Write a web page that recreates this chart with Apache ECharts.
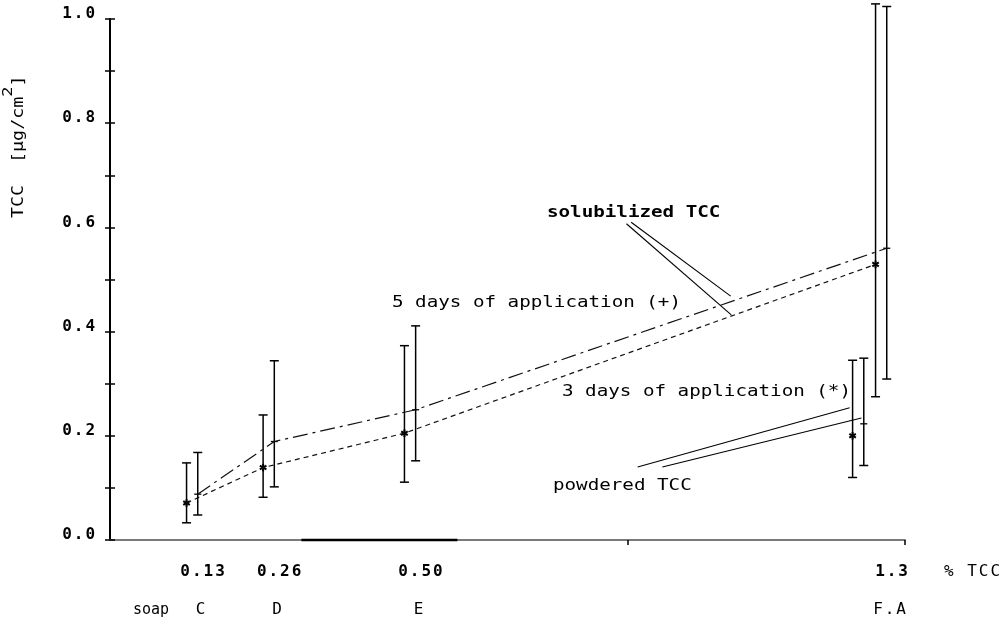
<!DOCTYPE html>
<html>
<head>
<meta charset="utf-8">
<script src="https://cdn.jsdelivr.net/npm/echarts@6/dist/echarts.min.js"></script>
<style>
  html, body { margin: 0; padding: 0; background: #fff; }
  #chart { width: 1007px; height: 624px; }
</style>
</head>
<body>
<div id="chart"></div>
<script>
// Soap formulations and their TCC content (% TCC)
const pctTCC = [0.13, 0.26, 0.50, 1.3];
const pctLabels = ['0.13', '0.26', '0.50', '1.3'];
const soaps = ['C', 'D', 'E', 'F.A'];

// Skin TCC (µg/cm²), solubilized TCC, 3 days of application (*)
const sol3Mean = [0.071, 0.139, 0.205, 0.529];
const sol3Low  = [0.033, 0.082, 0.111, 0.275];
const sol3High = [0.148, 0.240, 0.373, 1.029];

// Solubilized TCC, 5 days of application (+)
const sol5Mean = [0.088, 0.189, 0.250, 0.560];
const sol5Low  = [0.048, 0.102, 0.152, 0.309];
const sol5High = [0.168, 0.344, 0.411, 1.024];

// Powdered TCC, tested with soap F.A only
const powPct = [1.3];
const pow3Mean = [0.200];
const pow3Low  = [0.120];
const pow3High = [0.345];
const pow5Mean = [0.223];
const pow5Low  = [0.143];
const pow5High = [0.349];

// Leader lines for the annotations, in data units [x1, y1, x2, y2]
const solCallouts = [[0.885, 0.610, 1.054, 0.468], [0.877, 0.607, 1.055, 0.432]];
const powCallouts = [[0.896, 0.140, 1.256, 0.254], [0.938, 0.140, 1.276, 0.234]];

// Extra marks on the % TCC axis line, and the heavier-inked stretch of it
const xAxisTicks = [0.88, 1.35];
const axisInk = [[0.325, 0, 0.59, 0]];

// Horizontal spread of the paired error bars (in % TCC units)
const pairGap = 0.019;
const powderShift = -0.039;

const MONO = "'DejaVu Sans Mono', monospace";
const PITCH = 11.6;

// Fixed-pitch rendering of a label, one rich token per character
function spaced(str) {
  return String(str).split('').map(function (ch) { return '{c|' + ch + '}'; }).join('');
}
const pitchRich = function (size, weight, lineHeight) {
  const c = { width: PITCH, align: 'left', fontFamily: MONO, fontSize: size, fontWeight: weight, color: '#000' };
  if (lineHeight) c.lineHeight = lineHeight;
  return { c: c };
};
function pctIndex(v) {
  let best = 0;
  pctTCC.forEach(function (p, i) { if (Math.abs(p - v) < Math.abs(pctTCC[best] - v)) best = i; });
  return best;
}

function barItems(xs, mean, low, high, shape, shift) {
  return xs.map(function (x, i) { return [x + shift, low[i], high[i], mean[i], shape]; });
}

// Error bar with caps and a '*' (shape 0) or '+' (shape 1) at the mean
function renderErrorBar(params, api) {
  const x = api.value(0);
  const lo = api.coord([x, api.value(1)]);
  const hi = api.coord([x, api.value(2)]);
  const m = api.coord([x, api.value(3)]);
  const cap = 4.5;
  const st = { stroke: '#000', lineWidth: 1.5 };
  const children = [
    { type: 'line', shape: { x1: lo[0], y1: lo[1], x2: hi[0], y2: hi[1] }, style: st },
    { type: 'line', shape: { x1: lo[0] - cap, y1: lo[1], x2: lo[0] + cap, y2: lo[1] }, style: st },
    { type: 'line', shape: { x1: hi[0] - cap, y1: hi[1], x2: hi[0] + cap, y2: hi[1] }, style: st }
  ];
  if (api.value(4) === 0) {
    const r = 3.8;
    [90, 30, 150].forEach(function (deg) {
      const a = deg * Math.PI / 180;
      const dx = r * Math.cos(a), dy = r * Math.sin(a);
      children.push({ type: 'line', shape: { x1: m[0] - dx, y1: m[1] - dy, x2: m[0] + dx, y2: m[1] + dy },
        style: { stroke: '#000', lineWidth: 2 } });
    });
  } else {
    children.push({ type: 'line', shape: { x1: m[0] - 3.5, y1: m[1], x2: m[0] + 3.5, y2: m[1] },
      style: { stroke: '#000', lineWidth: 1.3 } });
  }
  return { type: 'group', children: children };
}

function segmentRenderer(width) {
  return function (params, api) {
    const a = api.coord([api.value(0), api.value(1)]);
    const b = api.coord([api.value(2), api.value(3)]);
    return { type: 'line', shape: { x1: a[0], y1: a[1], x2: b[0], y2: b[1] },
      style: { stroke: '#000', lineWidth: width } };
  };
}

const tickLine = { color: '#000', width: 1.5 };

function annotation(text, x, y, bold) {
  return {
    type: 'text', x: x, y: y, scaleX: 1.2,
    style: { text: text, fontFamily: MONO, fontSize: 16, fontWeight: bold ? 'bold' : 'normal',
      fill: '#000', align: 'left', verticalAlign: 'middle' }
  };
}

const chart = echarts.init(document.getElementById('chart'));
chart.setOption({
  animation: false,
  backgroundColor: '#fff',
  grid: { left: 110, right: 102, top: 19, bottom: 84, containLabel: false, outerBoundsMode: 'none' },
  xAxis: [
    {
      type: 'value', min: 0, max: 1.35, position: 'bottom',
      axisLine: { show: true, onZero: false, lineStyle: { color: '#7a7a7a', width: 2 } },
      axisTick: { show: true, customValues: xAxisTicks, length: 5, lineStyle: tickLine },
      splitLine: { show: false },
      axisLabel: {
        customValues: pctTCC, margin: 24, padding: [0, 0, 0, 34], fontSize: 16,
        formatter: function (v) { return spaced(pctLabels[pctIndex(v)]); },
        rich: pitchRich(16, 'bold')
      },
      name: spaced('% TCC'), nameLocation: 'end', nameGap: 39,
      nameTextStyle: { verticalAlign: 'top', padding: [24, 0, 0, 0], fontSize: 16, rich: pitchRich(16, 'normal') }
    },
    {
      type: 'value', min: 0, max: 1.35, position: 'bottom', offset: 38,
      axisLine: { show: false }, axisTick: { show: false }, splitLine: { show: false },
      axisLabel: {
        customValues: pctTCC, margin: 24, padding: [0, 0, 0, 30], fontSize: 16,
        formatter: function (v) { return spaced(soaps[pctIndex(v)]); },
        rich: pitchRich(16, 'normal')
      }
    }
  ],
  yAxis: [
    {
      type: 'value', min: 0, max: 1, interval: 0.2, position: 'left',
      axisLine: { show: true, onZero: false, lineStyle: { color: '#000', width: 2 } },
      axisTick: { show: true, length: 5, lineStyle: tickLine },
      minorTick: { show: true, splitNumber: 2, length: 5, lineStyle: tickLine },
      splitLine: { show: false }, minorSplitLine: { show: false },
      axisLabel: {
        margin: 13, verticalAlign: 'bottom', fontSize: 16, lineHeight: 10,
        formatter: function (v) { return spaced(v.toFixed(1)); },
        rich: pitchRich(16, 'bold', 10)
      }
    },
    {
      type: 'value', min: 0, max: 1, interval: 0.2, position: 'left',
      axisLine: { show: false },
      axisTick: { show: true, inside: true, length: 5, lineStyle: tickLine },
      minorTick: { show: true, splitNumber: 2, length: 5, lineStyle: tickLine },
      splitLine: { show: false }, axisLabel: { show: false }
    }
  ],
  graphic: [
    {
      type: 'text', x: 14, y: 218, rotation: Math.PI / 2, scaleX: 1.22,
      style: {
        text: '{n|TCC  [µg/cm}{s|2}{n|]}', align: 'left', verticalAlign: 'middle',
        rich: {
          n: { fontFamily: MONO, fontSize: 15, lineHeight: 26, verticalAlign: 'bottom', fill: '#000', color: '#000' },
          s: { fontFamily: MONO, fontSize: 14, lineHeight: 26, verticalAlign: 'top', fill: '#000', color: '#000' }
        }
      }
    },
    annotation('solubilized TCC', 547, 213, true),
    annotation('5 days of application (+)', 392, 303, false),
    annotation('3 days of application (*)', 562, 392, false),
    annotation('powdered TCC', 553, 486, false),
    {
      type: 'text', x: 169, y: 610,
      style: { text: 'soap', fontFamily: MONO, fontSize: 15, fill: '#000', align: 'right', verticalAlign: 'middle' }
    }
  ],
  series: [
    {
      name: 'solubilized, 5 days', type: 'line', symbol: 'none',
      data: pctTCC.map(function (x, i) { return [x + pairGap, sol5Mean[i]]; }),
      lineStyle: { color: '#111', width: 1.2, type: [15, 5, 3, 5] }
    },
    {
      name: 'solubilized, 3 days', type: 'line', symbol: 'none',
      data: pctTCC.map(function (x, i) { return [x, sol3Mean[i]]; }),
      lineStyle: { color: '#111', width: 1.2, type: [5, 4] }
    },
    {
      name: 'error bars', type: 'custom', clip: false, renderItem: renderErrorBar,
      data: [].concat(
        barItems(pctTCC, sol3Mean, sol3Low, sol3High, 0, 0),
        barItems(pctTCC, sol5Mean, sol5Low, sol5High, 1, pairGap),
        barItems(powPct, pow3Mean, pow3Low, pow3High, 0, powderShift),
        barItems(powPct, pow5Mean, pow5Low, pow5High, 1, powderShift + pairGap)
      )
    },
    {
      name: 'callouts', type: 'custom', clip: false, renderItem: segmentRenderer(1.1),
      data: solCallouts.concat(powCallouts)
    },
    {
      name: 'axis ink', type: 'custom', clip: false, renderItem: segmentRenderer(2.5),
      data: axisInk
    }
  ]
});
</script>
</body>
</html>
